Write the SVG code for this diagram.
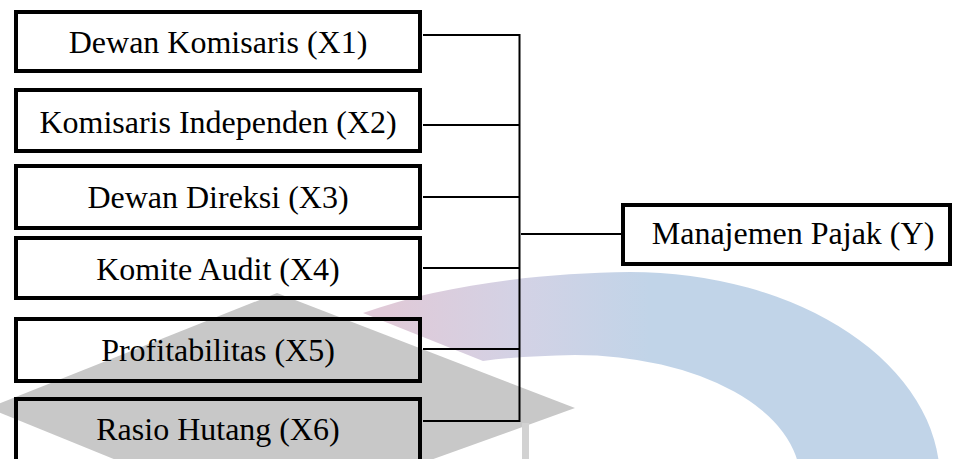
<svg xmlns="http://www.w3.org/2000/svg" width="954" height="459" viewBox="0 0 954 459">
  <style>
    .box { fill: none; stroke: #000; stroke-width: 4; }
    .lbl { font-family: "Liberation Serif", "Times New Roman", serif; font-size: 32px; fill: #000; text-anchor: middle; }
    .con { stroke: #000; stroke-width: 2; fill: none; }
  </style>
  <defs>
    <linearGradient id="arcGrad" gradientUnits="userSpaceOnUse" x1="390" y1="0" x2="650" y2="0">
      <stop offset="0" stop-color="#e0cad8"/>
      <stop offset="0.5" stop-color="#d3d2e5"/>
      <stop offset="1" stop-color="#c1d4e8"/>
    </linearGradient>
  </defs>
  <rect width="954" height="459" fill="#ffffff"/>
  <g id="watermark">
    <path d="M 363 313 L 483 361 Q 520 356 575 355 A 225 125 0 0 1 800 480 L 940 480 A 310 208 0 0 0 630 272 C 540 273 440 285 363 313 Z" fill="url(#arcGrad)"/>
    <polygon points="277,293 575,408 264,520 -12,408" fill="#c8c8c8"/>
    <rect x="522" y="423" width="7" height="40" fill="#d2d2d2"/>
  </g>
  <g id="connectors">
    <line class="con" x1="423" y1="35" x2="520" y2="35"/>
    <line class="con" x1="423" y1="125" x2="520" y2="125"/>
    <line class="con" x1="423" y1="197" x2="520" y2="197"/>
    <line class="con" x1="423" y1="268" x2="520" y2="268"/>
    <line class="con" x1="423" y1="349" x2="520" y2="349"/>
    <line class="con" x1="423" y1="421" x2="520" y2="421"/>
    <line class="con" x1="519.5" y1="34" x2="519.5" y2="422"/>
    <line class="con" x1="521" y1="234" x2="621" y2="234"/>
  </g>
  <g id="x1">
    <rect class="box" x="16" y="12" width="404" height="59"/>
    <text class="lbl" x="218" y="53">Dewan Komisaris (X1)</text>
  </g>
  <g id="x2">
    <rect class="box" x="16" y="90" width="404" height="61"/>
    <text class="lbl" x="218" y="133">Komisaris Independen (X2)</text>
  </g>
  <g id="x3">
    <rect class="box" x="16" y="166" width="404" height="62"/>
    <text class="lbl" x="218" y="208">Dewan Direksi (X3)</text>
  </g>
  <g id="x4">
    <rect class="box" x="16" y="238" width="404" height="60"/>
    <text class="lbl" x="218" y="280">Komite Audit (X4)</text>
  </g>
  <g id="x5">
    <rect class="box" x="16" y="319" width="404" height="62"/>
    <text class="lbl" x="218" y="361">Profitabilitas (X5)</text>
  </g>
  <g id="x6">
    <rect class="box" x="16" y="399" width="404" height="70"/>
    <text class="lbl" x="218" y="440">Rasio Hutang (X6)</text>
  </g>
  <g id="y">
    <rect class="box" x="623" y="205" width="327" height="59"/>
    <text class="lbl" x="793" y="244">Manajemen Pajak (Y)</text>
  </g>
</svg>
